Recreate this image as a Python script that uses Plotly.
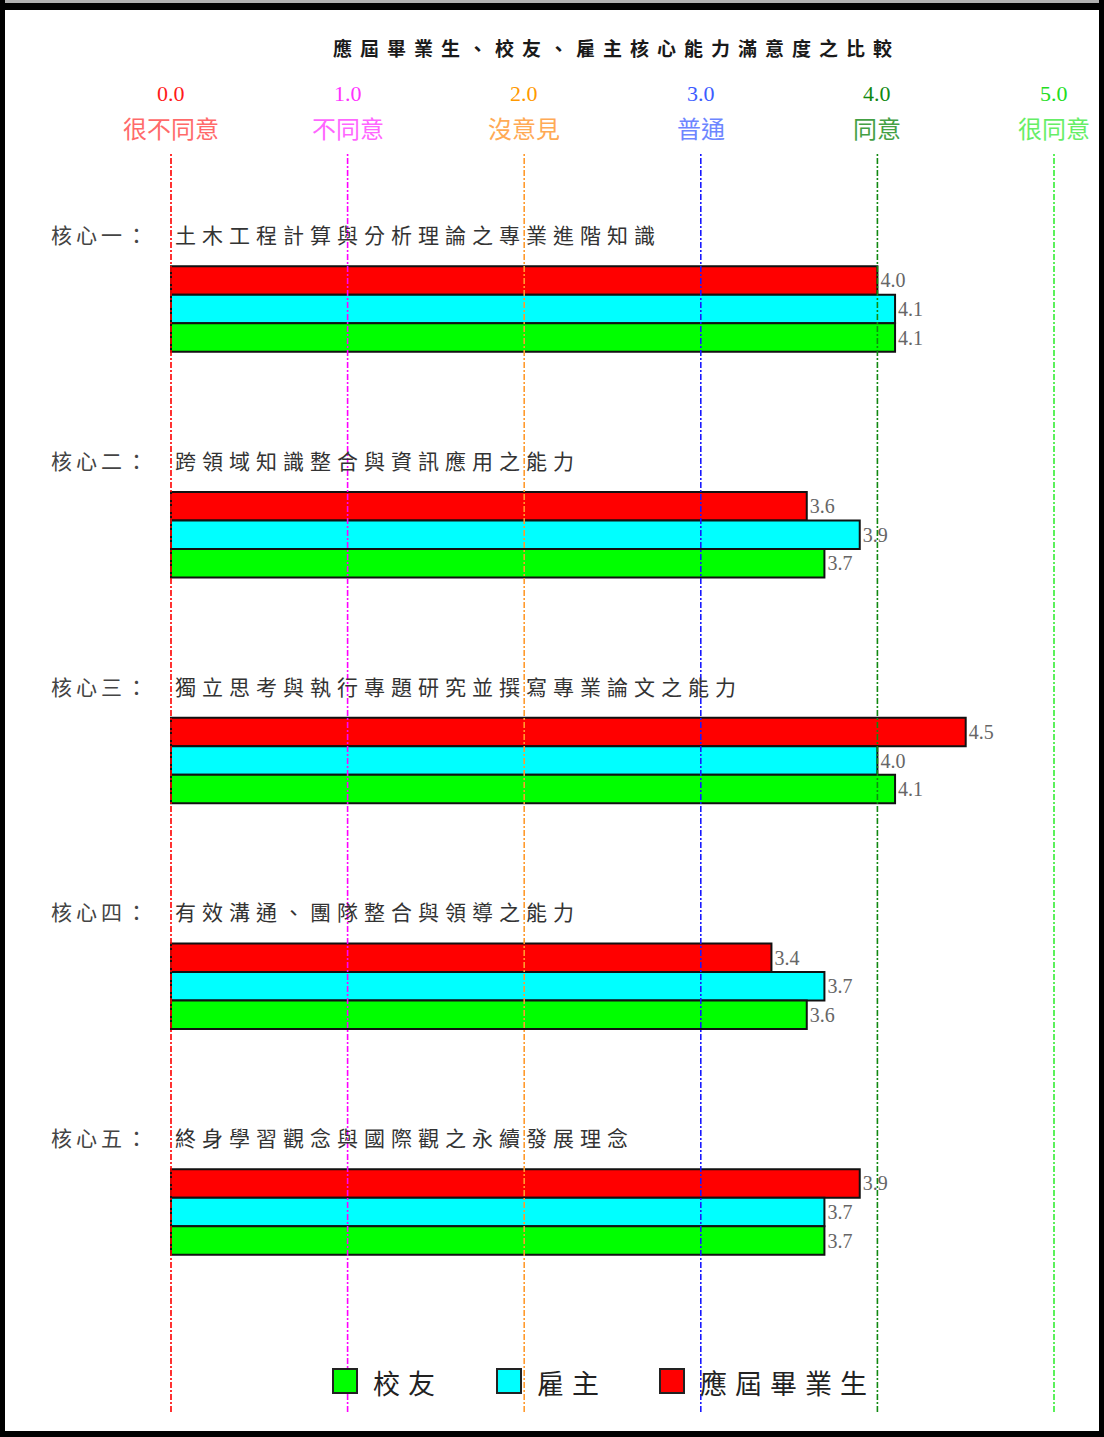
import plotly.graph_objects as go

# Survey data: satisfaction with five core competencies (scale 0-5)
cores = ["核心一", "核心二", "核心三", "核心四", "核心五"]
core_titles = [
    "土木工程計算與分析理論之專業進階知識",
    "跨領域知識整合與資訊應用之能力",
    "獨立思考與執行專題研究並撰寫專業論文之能力",
    "有效溝通、團隊整合與領導之能力",
    "終身學習觀念與國際觀之永續發展理念",
]
graduates = [4.0, 3.6, 4.5, 3.4, 3.9]   # 應屆畢業生
employers = [4.1, 3.9, 4.0, 3.7, 3.7]   # 雇主
alumni = [4.1, 3.7, 4.1, 3.6, 3.7]      # 校友

scale_values = [0, 1, 2, 3, 4, 5]
scale_numbers = ["0.0", "1.0", "2.0", "3.0", "4.0", "5.0"]
scale_words = ["很不同意", "不同意", "沒意見", "普通", "同意", "很同意"]

title_text = "應屆畢業生、校友、雇主核心能力滿意度之比較"

W, H = 1104, 1437
CJK = "Noto Sans CJK TC"
SERIF = "Liberation Serif"

# helpers: pixel -> paper fraction (margins are zero, so paper = whole page)
def px(x):
    return x / W

def py(y):
    return 1 - y / H

plot_top, plot_bottom = 152, 1412
first_center, step = 309, 225.75
y_lo = (plot_top - first_center) / step
y_hi = (plot_bottom - first_center) / step
x0_px, unit_px = 171, 176.6

fig = go.Figure()

series = [
    ("應屆畢業生", graduates, "#ff0000"),
    ("雇主", employers, "#00ffff"),
    ("校友", alumni, "#00ff00"),
]
for name, vals, color in series:
    fig.add_trace(go.Bar(
        name=name,
        y=cores,
        x=vals,
        orientation="h",
        marker=dict(color=color, line=dict(color="#111111", width=2)),
        text=[f"{v:.1f}" for v in vals],
        textposition="outside",
        constraintext="none",
        cliponaxis=False,
        outsidetextfont=dict(family=SERIF, size=20, color="#666666"),
        showlegend=False,
        hoverinfo="skip",
    ))

shapes = []
annotations = []

# reference lines for each scale level
line_colors = ["#ff0000", "#ff00ff", "#ff9a2e", "#1a1aff", "#118811", "#33ee33"]
num_colors = ["#ff1a1a", "#ff33ff", "#ff9900", "#3d5cff", "#118811", "#22dd22"]
word_colors = ["#ff6a6a", "#ff66ff", "#ffaa55", "#6d86ff", "#44a044", "#66ee66"]
for v, lc, nc, wc, num, word in zip(scale_values, line_colors, num_colors,
                                    word_colors, scale_numbers, scale_words):
    shapes.append(dict(
        type="line", xref="x", yref="paper", x0=v, x1=v,
        y0=py(plot_bottom), y1=py(plot_top),
        line=dict(color=lc, width=1.6, dash="6px,2px,2px,2px"),
        layer="above",
    ))
    annotations.append(dict(
        x=v, y=py(93), xref="x", yref="paper", text=num, showarrow=False,
        font=dict(family=SERIF, size=22, color=nc),
        xanchor="center", yanchor="middle",
    ))
    annotations.append(dict(
        x=v, y=py(128), xref="x", yref="paper", text=word, showarrow=False,
        font=dict(family=CJK, size=24, color=wc),
        xanchor="center", yanchor="middle",
    ))

# competency headings above each bar group
for core, title in zip(cores, core_titles):
    annotations.append(dict(
        x=0, y=core, xref="x", yref="y", yshift=75, xshift=-18,
        text=f'<span style="letter-spacing:4px">{core}：</span>',
        showarrow=False, xanchor="right", yanchor="middle",
        font=dict(family=CJK, size=21, color="#444444"),
    ))
    annotations.append(dict(
        x=0, y=core, xref="x", yref="y", yshift=75, xshift=2,
        text=f'<span style="letter-spacing:6px">{title}</span>',
        showarrow=False, xanchor="left", yanchor="middle",
        font=dict(family=CJK, size=21, color="#333333"),
    ))

# chart title
annotations.append(dict(
    x=px(616), y=py(47), xref="paper", yref="paper",
    text=f'<b><span style="letter-spacing:8px">{title_text}</span></b>',
    showarrow=False, xanchor="center", yanchor="middle",
    font=dict(family=CJK, size=19, color="#1a1a1a"),
))

# legend boxes and labels
legend_items = [("校友", "#00ff00", 333), ("雇主", "#00ffff", 497), ("應屆畢業生", "#ff0000", 660)]
for label, color, lx in legend_items:
    shapes.append(dict(
        type="rect", xref="paper", yref="paper",
        x0=px(lx), x1=px(lx + 24), y0=py(1393), y1=py(1369),
        fillcolor=color, line=dict(color="#222222", width=2), layer="above",
    ))
    annotations.append(dict(
        x=px(lx + 38), y=py(1382), xref="paper", yref="paper",
        text=f'<span style="letter-spacing:8px">{label}</span>',
        showarrow=False, xanchor="left", yanchor="middle",
        font=dict(family=CJK, size=27, color="#222222"),
    ))

# page frame
frame = [
    (0, W, 0, 3, "#b0b0b0"),
    (0, W, 3, 10, "#000000"),
    (0, 5, 0, H, "#000000"),
    (1099, W, 0, H, "#000000"),
    (0, W, 1431, H, "#000000"),
]
for fx0, fx1, fy0, fy1, fc in frame:
    shapes.append(dict(
        type="rect", xref="paper", yref="paper",
        x0=px(fx0), x1=px(fx1), y0=py(fy1), y1=py(fy0),
        fillcolor=fc, line=dict(width=0), layer="above",
    ))

fig.update_layout(
    width=W, height=H,
    margin=dict(l=0, r=0, t=0, b=0),
    paper_bgcolor="white",
    plot_bgcolor="white",
    barmode="group",
    bargap=0.621,
    bargroupgap=0,
    shapes=shapes,
    annotations=annotations,
    xaxis=dict(
        range=[-x0_px / unit_px, (W - x0_px) / unit_px],
        showgrid=False, zeroline=False, showticklabels=False, ticks="",
        fixedrange=True,
    ),
    yaxis=dict(
        range=[y_hi, y_lo],
        domain=[py(plot_bottom), py(plot_top)],
        showgrid=False, zeroline=False, showticklabels=False, ticks="",
        fixedrange=True,
    ),
)

fig.write_html("out.html")
